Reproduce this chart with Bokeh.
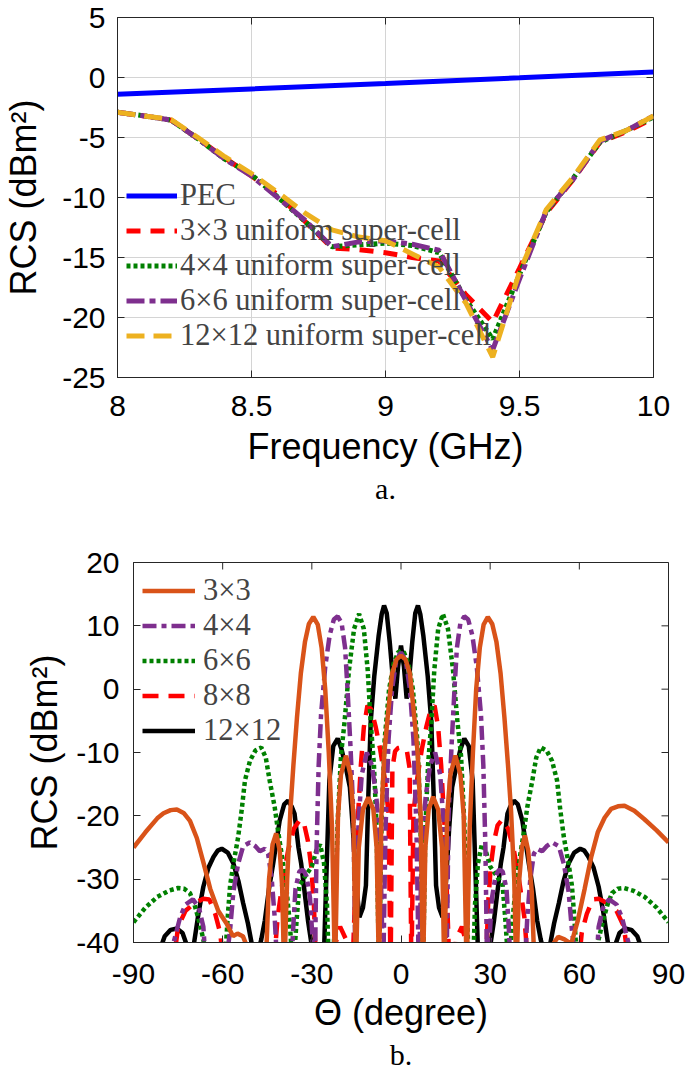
from bokeh.plotting import figure
from bokeh.models import FixedTicker, Range1d, Legend, LegendItem, Title
from bokeh.embed import file_html
from bokeh.resources import INLINE

# ---------------- panel a : RCS versus frequency ----------------
freq_ghz = [8.0, 8.1, 8.2, 8.3, 8.4, 8.5, 8.6, 8.7, 8.8, 8.9, 9.0,
            9.1, 9.2, 9.3, 9.4, 9.5, 9.6, 9.7, 9.8, 9.9, 10.0]
pec_freq = [8.0, 8.5, 9.0, 9.5, 10.0]
pec_rcs = [-1.40, -0.95, -0.50, -0.03, 0.45]
rcs_a_3x3 = [-2.9, -3.2, -3.55, -5.1, -6.7, -8.2, -9.8, -12.0, -14.2, -14.35, -14.6,
             -15.0, -15.3, -18.1, -20.4, -15.9, -11.3, -8.5, -5.4, -4.5, -3.4]
rcs_a_4x4 = [-2.9, -3.2, -3.55, -5.1, -6.8, -8.1, -10.0, -12.0, -14.1, -13.95, -13.8,
             -14.0, -14.6, -18.5, -21.8, -16.4, -11.2, -8.4, -5.4, -4.4, -3.3]
rcs_a_6x6 = [-2.9, -3.2, -3.55, -5.1, -6.8, -8.2, -10.05, -11.9, -14.1, -13.7, -13.6,
             -13.9, -14.4, -18.6, -22.7, -16.8, -11.1, -8.5, -5.3, -4.4, -3.2]
rcs_a_12x12 = [-2.9, -3.2, -3.5, -5.0, -6.6, -8.0, -9.6, -11.3, -12.7, -13.3, -13.6,
               -14.7, -15.8, -18.8, -23.3, -16.2, -11.0, -8.3, -5.2, -4.4, -3.2]
labels_a = ["PEC", "3×3 uniform super-cell", "4×4 uniform super-cell",
            "6×6 uniform super-cell", "12×12 uniform super-cell"]
xticks_a = [8, 8.5, 9, 9.5, 10]
yticks_a = [-25, -20, -15, -10, -5, 0, 5]

# ---------------- panel b : RCS versus angle (deg, dBm^2) ----------------
rcs_b_3x3 = [(-90, -25), (-86, -22.6), (-82, -20.4), (-79.9, -19.6), (-77.5, -19.1), (-75.4, -19),
             (-73, -19.6), (-71, -20.8), (-68.7, -23.5), (-66.4, -27.5), (-64.2, -31.5), (-61.5, -35),
             (-58.7, -37), (-56.5, -39), (-55, -38.6), (-53.2, -39), (-51.5, -41), (-48.5, -50),
             (-45.6, -45), (-44.4, -30), (-43.2, -24.5), (-42, -22.8), (-40.8, -25.5), (-40, -31),
             (-39.3, -45), (-38.3, -30), (-37.2, -19), (-36.2, -12), (-35, -4.5), (-33.7, 2.5),
             (-32.3, 7.5), (-31, 10.3), (-29.5, 11.4), (-28, 10.2), (-26.7, 6.5), (-25.5, 0),
             (-24.3, -10), (-23.2, -22), (-22.2, -45), (-21.2, -20), (-20.2, -13.5), (-18.5, -10.5),
             (-17, -13.5), (-16, -20), (-15.2, -45), (-14.2, -25), (-12.8, -19), (-11, -17.1),
             (-9.3, -19), (-8.2, -25), (-7.4, -45), (-6.6, -20), (-5.6, -10), (-4.6, -5), (-3, 2.5),
             (-1.5, 4.7), (0, 5.3), (1.5, 4.7), (3, 2.5), (4.6, -5), (5.6, -10), (6.6, -20),
             (7.4, -45), (8.2, -25), (9.3, -19), (10.8, -17), (12.5, -19), (13.8, -25), (14.6, -45),
             (15.5, -20), (16.6, -13.5), (18.3, -10.5), (20, -13.5), (21.1, -20), (22.1, -45),
             (23.1, -22), (24.2, -10), (25.3, 0), (26.5, 6.5), (27.8, 10.2), (29.2, 11.4),
             (30.7, 10.3), (32.1, 7.5), (33.5, 2.5), (34.8, -4.5), (36, -12), (37, -19), (38.1, -30),
             (38.8, -45), (39.8, -30), (40.7, -25), (41.7, -23.1), (42.8, -25.5), (44, -32), (45, -45),
             (47.5, -50), (50, -45), (51.5, -40), (52.9, -39.1), (55, -39.5), (57.3, -40.2),
             (59.5, -36.5), (61.8, -31.5), (64, -26.5), (66.2, -22.6), (68.5, -20.3), (70.7, -18.9),
             (73, -18.5), (75.2, -18.4), (78.5, -19.2), (81.8, -20.5), (86, -22.3), (90, -24.2)]

rcs_b_4x4 = [(-90, -55), (-78, -45), (-76.5, -40), (-74.3, -36), (-72.5, -34), (-70, -33.2), (-68, -34.5),
             (-66.5, -37.5), (-65.5, -45), (-62, -52), (-59, -45), (-58, -40), (-57.5, -38), (-56.4, -32),
             (-54.8, -27.6), (-53.1, -24.8), (-50.9, -24.2), (-49, -24.8), (-47.5, -25.6), (-45.8, -25.2),
             (-44.7, -26), (-43.5, -30), (-42.5, -36), (-41.5, -45), (-40, -48), (-38.5, -42), (-37, -45),
             (-36.3, -38), (-35.5, -31.5), (-34.2, -28.8), (-33, -28.5), (-31.8, -29.5), (-30.6, -33),
             (-29.7, -40), (-29, -45), (-28.4, -25), (-27.7, -12), (-26.9, -4), (-25.5, 3.5), (-24, 8.5),
             (-22.6, 11), (-21.3, 11.5), (-20, 10.5), (-18.8, 6.5), (-18, 0), (-17, -9), (-16, -20),
             (-15.3, -45), (-14.3, -21), (-13.2, -13.5), (-11.5, -10), (-9.8, -12), (-8.3, -17), (-7, -25),
             (-6, -45), (-5.2, -22), (-4.2, -8), (-3, 0), (-1.6, 4.5), (0, 5.8), (1.6, 4.5), (3, 0),
             (4.2, -8), (5.2, -22), (6, -45), (7, -25), (8.3, -17), (9.8, -12), (11.5, -10), (13.2, -13.5),
             (14.3, -21), (15.3, -45), (16, -20), (17, -9), (18, 0), (18.8, 6.5), (20, 10.5), (21.3, 11.5),
             (22.6, 11), (24, 8.5), (25.5, 3.5), (26.9, -4), (27.7, -12), (28.4, -25), (29, -45),
             (29.7, -40), (30.6, -33), (31.8, -29.5), (33, -28.5), (34.2, -28.8), (35.5, -31.5),
             (36.3, -38), (37, -45), (38.5, -42), (40, -48), (41.5, -45), (42.5, -36), (43.5, -30),
             (44.7, -26), (45.8, -25.2), (47.5, -25.6), (49, -24.8), (50.9, -24.2), (53.1, -24.8),
             (54.8, -27.6), (56.4, -32), (57.5, -38), (58, -40), (59, -45), (62, -52), (65.5, -45),
             (66.5, -37.5), (68, -34.5), (70, -33.2), (72.5, -34), (74.3, -36), (76.5, -40), (78, -45),
             (90, -55)]

rcs_b_6x6 = [(-90, -36.8), (-86, -34.5), (-82, -32.8), (-78, -31.8), (-75, -31.4), (-73, -31.5), (-71, -32.2),
             (-69.5, -34), (-68, -36.5), (-66.5, -39.5), (-65, -45), (-62, -52), (-59.5, -45), (-58.3, -36),
             (-57.5, -31), (-56.4, -27.6), (-54.8, -23.4), (-53.6, -19.1), (-52.5, -14.4), (-50.8, -11.3),
             (-49, -9.7), (-47, -9.2), (-45.5, -10.8), (-44.2, -14.4), (-42.5, -18.6), (-41.4, -22.3),
             (-40, -26.5), (-38.6, -31.2), (-37.4, -37), (-36.3, -45), (-35.2, -37), (-34.2, -31),
             (-32.2, -29.5), (-30, -28), (-28.5, -25.5), (-27.2, -24.5), (-25.9, -27.5), (-24.9, -34),
             (-24.2, -45), (-23.2, -48), (-22.4, -38), (-21.3, -21), (-20.2, -10.5), (-19, -5.2),
             (-17.5, 3), (-15.8, 9.5), (-14.1, 11.9), (-12.5, 9.5), (-11.2, 3), (-10.2, -5.2), (-9.1, -12),
             (-8.2, -22), (-7.4, -45), (-6.5, -20), (-5.5, -8), (-4, 0), (-2.5, 4), (-1, 5.8), (0, 6.1),
             (1, 5.8), (2.5, 4), (4, 0), (5.5, -8), (6.5, -20), (7.4, -45), (8.2, -22), (9.1, -12),
             (10.2, -5.2), (11.2, 3), (12.5, 9.5), (14.1, 11.9), (15.8, 9.5), (17.5, 3), (19, -5.2),
             (20.2, -10.5), (21.3, -21), (22.4, -38), (23.2, -48), (24.2, -45), (24.9, -34), (25.9, -27.5),
             (27.2, -24.5), (28.5, -25.5), (30, -28), (32.2, -29.5), (34.2, -31), (35.2, -37), (36.3, -45),
             (37.4, -37), (38.6, -31.2), (40, -26.5), (41.4, -22.3), (42.5, -18.6), (44.2, -14.4),
             (45.5, -10.8), (47, -9.2), (49, -9.7), (50.8, -11.3), (52.5, -14.4), (53.6, -19.1),
             (54.8, -23.4), (56.4, -27.6), (57.5, -31), (58.3, -36), (59.5, -45), (62, -52), (65, -45),
             (66.5, -39.5), (68, -36.5), (69.5, -34), (71, -32.2), (73, -31.5), (75, -31.4), (78, -31.8),
             (82, -32.8), (86, -34.5), (90, -36.8)]

rcs_b_8x8 = [(-90, -55), (-77, -45), (-75, -37.5), (-72.5, -35), (-69.5, -33.8), (-66.5, -33.1), (-64.5, -33.2),
             (-62.5, -35.5), (-60.8, -38.5), (-59.5, -45), (-52, -55), (-43, -45), (-41.5, -36), (-40, -31),
             (-38, -25.5), (-36, -22), (-34, -20.6), (-32.5, -21.5), (-31.3, -24), (-30.2, -28), (-29.3, -34),
             (-28.5, -45), (-24, -50), (-22.5, -41), (-20.5, -37.5), (-18.5, -39.5), (-17.5, -45), (-16, -40),
             (-14.7, -22), (-13.5, -12), (-12.5, -6), (-11.3, -2.6), (-10, -3.2), (-8.5, -6), (-7, -9.5),
             (-5.5, -14), (-4.2, -19.5), (-3.5, -45), (-2.9, -12.5), (-2, -9.8), (-1, -9.3), (0, -9.2),
             (1, -9.3), (2, -9.8), (2.9, -12.5), (3.5, -45), (4.2, -19.5), (5.5, -14), (7, -9.5), (8.5, -6),
             (10, -3.2), (11.3, -2.6), (12.5, -6), (13.5, -12), (14.7, -22), (16, -40), (17.5, -45),
             (18.5, -39.5), (20.5, -37.5), (22.5, -41), (24, -50), (28.5, -45), (29.3, -34), (30.2, -28),
             (31.3, -24), (32.5, -21.5), (34, -20.6), (36, -22), (38, -25.5), (40, -31), (41.5, -36),
             (43, -45), (52, -55), (59.5, -45), (60.8, -38.5), (62.5, -35.5), (64.5, -33.2), (66.5, -33.1),
             (69.5, -33.8), (72.5, -35), (75, -37.5), (77, -45), (90, -55)]

rcs_b_12x12 = [(-90, -55), (-81, -41), (-79.5, -39), (-77.5, -38), (-75.4, -37.8), (-73.5, -38.5), (-72, -40.5),
               (-71, -45), (-69.6, -40), (-68, -35), (-66.5, -31.2), (-64.8, -28.2), (-63.1, -26.5),
               (-61.7, -25.5), (-60.3, -25.2), (-58.3, -25.8), (-56.4, -27.5), (-54.7, -30.3), (-53.1, -33.8),
               (-51.5, -37), (-50.3, -40), (-49, -45), (-47.8, -41), (-47, -39.5), (-45.8, -36.5),
               (-44.4, -31.5), (-43, -27.5), (-40.8, -20.7), (-39.3, -18.2), (-38, -17.6), (-36.8, -18.5),
               (-35.8, -19.7), (-34.5, -25), (-33.6, -27.5), (-31.3, -36.5), (-30.2, -40), (-29, -45),
               (-26.8, -45), (-25.8, -40), (-24.1, -14.4), (-22.8, -9), (-21.3, -7.8), (-20, -9.5),
               (-18.5, -12.5), (-17.2, -15.5), (-16.2, -22), (-15.2, -30), (-14, -36), (-12.8, -34.5),
               (-11.8, -31), (-11, -17), (-10.2, -5.2), (-9, 2), (-7.5, 8.5), (-6.5, 11.8), (-5.7, 13.2),
               (-4.8, 12), (-3.8, 7.5), (-2.8, 2), (-1.9, -1.5), (-1, 3.5), (0, 6.9), (1, 3.5), (1.9, -1.5),
               (2.8, 2), (3.8, 7.5), (4.8, 12), (5.7, 13.2), (6.5, 11.8), (7.5, 8.5), (9, 2), (10.2, -5.2),
               (11, -17), (11.8, -31), (12.8, -34.5), (14, -36), (15.2, -30), (16.2, -22), (17.2, -15.5),
               (18.5, -12.5), (20, -9.5), (21.3, -7.8), (22.8, -9), (24.1, -14.4), (25.8, -40), (26.8, -45),
               (29, -45), (30.2, -40), (31.3, -36.5), (33.6, -27.5), (34.5, -25), (35.8, -19.7),
               (36.8, -18.5), (38, -17.6), (39.3, -18.2), (40.8, -20.7), (43, -27.5), (44.4, -31.5),
               (45.8, -36.5), (47, -39.5), (47.8, -41), (49, -45), (50.3, -40), (51.5, -37), (53.1, -33.8),
               (54.7, -30.3), (56.4, -27.5), (58.3, -25.8), (60.3, -25.2), (61.7, -25.5), (63.1, -26.5),
               (64.8, -28.2), (66.5, -31.2), (68, -35), (69.6, -40), (71, -45), (72, -40.5), (73.5, -38.5),
               (75.4, -37.8), (77.5, -38), (79.5, -39), (81, -41), (90, -55)]
labels_b = ["3×3", "4×4", "6×6", "8×8", "12×12"]
xticks_b = [-90, -60, -30, 0, 30, 60, 90]
yticks_b = [-40, -30, -20, -10, 0, 10, 20]

SANS = "Liberation Sans"
SERIF = "Liberation Serif"
AX = "#262626"


def fmt(v):
    return str(int(v)) if float(v).is_integer() else str(v)


def style(p, xt, yt, xlabel, ylabel, grid, tick_px, label_px, xstand, ystand, xlstand, ylstand):
    p.background_fill_color = "white"
    p.border_fill_color = "white"
    p.outline_line_color = AX
    p.outline_line_width = 1
    p.xaxis.ticker = FixedTicker(ticks=xt)
    p.yaxis.ticker = FixedTicker(ticks=yt)
    p.xaxis.major_label_overrides = {v: fmt(v) for v in xt}
    p.yaxis.major_label_overrides = {v: fmt(v) for v in yt}
    for ax in (p.xaxis[0], p.yaxis[0]):
        ax.axis_line_color = AX
        ax.major_tick_line_color = AX
        ax.major_tick_in = 7
        ax.major_tick_out = 0
        ax.minor_tick_in = 0
        ax.minor_tick_out = 0
        ax.major_label_text_font = SANS
        ax.major_label_text_font_size = tick_px
        ax.major_label_text_color = "black"
        ax.axis_label_text_font = SANS
        ax.axis_label_text_font_size = label_px
        ax.axis_label_text_font_style = "normal"
        ax.axis_label_text_color = "black"
    p.xaxis.axis_label = xlabel
    p.yaxis.axis_label = ylabel
    p.xaxis.major_label_standoff = xstand
    p.yaxis.major_label_standoff = ystand
    p.xaxis.axis_label_standoff = xlstand
    p.yaxis.axis_label_standoff = ylstand
    if grid:
        p.xgrid.ticker = FixedTicker(ticks=xt)
        p.ygrid.ticker = FixedTicker(ticks=yt)
        p.grid.grid_line_color = "#d4d4d4"
        p.grid.grid_line_width = 1
    else:
        p.grid.grid_line_color = None
    # box ticks on the top and right edges (MATLAB "box on")
    p.ray(x=xt, y=[yt[-1]] * len(xt), length=7, length_units="screen",
          angle=-90, angle_units="deg", line_color=AX, line_width=1)
    p.ray(x=[xt[-1]] * len(yt), y=yt, length=7, length_units="screen",
          angle=180, angle_units="deg", line_color=AX, line_width=1)


W = 685
# ---------------- figure a ----------------
H1 = 517
p1 = figure(width=W, height=H1, x_range=Range1d(8, 10), y_range=Range1d(-25, 5),
            output_backend="svg", toolbar_location=None,
            min_border_left=115, min_border_right=W - 653, min_border_top=17,
            min_border_bottom=H1 - 17 - 360)
style(p1, xticks_a, yticks_a, "Frequency (GHz)", "RCS (dBm²)", True,
      "30px", "36px", 18, 12, 7, 15)

r_pec = p1.line(pec_freq, pec_rcs, line_color="#0000FF", line_width=5)
r_a3 = p1.line(freq_ghz, rcs_a_3x3, line_color="#FF0000", line_width=5, line_dash="14 10")
r_a4 = p1.line(freq_ghz, rcs_a_4x4, line_color="#008000", line_width=5, line_dash="4 3")
r_a6 = p1.line(freq_ghz, rcs_a_6x6, line_color="#7E2F8E", line_width=5, line_dash="18 5 6 5")
r_a12 = p1.line(freq_ghz, rcs_a_12x12, line_color="#EDB120", line_width=5, line_dash="18 9")

leg1 = Legend(items=[LegendItem(label=l, renderers=[r]) for l, r in
                     zip(labels_a, [r_pec, r_a3, r_a4, r_a6, r_a12])],
              location=(9, 24), label_text_font=SERIF, label_text_font_size="30.5px",
              glyph_width=51, glyph_height=35, label_height=35, spacing=0, padding=0,
              margin=0, label_standoff=3, background_fill_alpha=0, border_line_alpha=0)
p1.add_layout(leg1)
cap1 = Title(text="a.", align="center", text_font=SERIF, text_font_size="30px",
             text_font_style="normal", text_color="black", standoff=0)
p1.add_layout(cap1, "below")

# ---------------- figure b ----------------
H2 = 1079 - H1
TOP2 = 562 - H1
p2 = figure(width=W, height=H2, x_range=Range1d(-90, 90), y_range=Range1d(-40, 20),
            output_backend="svg", toolbar_location=None,
            min_border_left=133, min_border_right=17, min_border_top=TOP2,
            min_border_bottom=H2 - TOP2 - 380)
style(p2, xticks_b, yticks_b, "Θ (degree)", "RCS (dBm²)", False,
      "30px", "36px", 21, 14, 5, 8)


def xy(pairs):
    return [a for a, _ in pairs], [b for _, b in pairs]


x12, y12 = xy(rcs_b_12x12)
x8, y8 = xy(rcs_b_8x8)
x6, y6 = xy(rcs_b_6x6)
x4, y4 = xy(rcs_b_4x4)
x3, y3 = xy(rcs_b_3x3)
r_b12 = p2.line(x12, y12, line_color="black", line_width=4.5)
r_b8 = p2.line(x8, y8, line_color="#FF0000", line_width=4.5, line_dash="16 10")
r_b6 = p2.line(x6, y6, line_color="#008000", line_width=4.5, line_dash="4 3")
r_b4 = p2.line(x4, y4, line_color="#7E2F8E", line_width=4.5, line_dash="14 5 5 5")
r_b3 = p2.line(x3, y3, line_color="#D95319", line_width=4.5)

leg2 = Legend(items=[LegendItem(label=l, renderers=[r]) for l, r in
                     zip(labels_b, [r_b3, r_b4, r_b6, r_b8, r_b12])],
              location=(9, 194), label_text_font=SERIF, label_text_font_size="30.5px",
              glyph_width=53, glyph_height=35, label_height=35, spacing=0, padding=0,
              margin=0, label_standoff=8, background_fill_alpha=0, border_line_alpha=0)
p2.add_layout(leg2)
cap2 = Title(text="b.", align="center", text_font=SERIF, text_font_size="30px",
             text_font_style="normal", text_color="black", standoff=0)
p2.add_layout(cap2, "below")

open("out.html", "w").write(file_html([p1, p2], INLINE))
